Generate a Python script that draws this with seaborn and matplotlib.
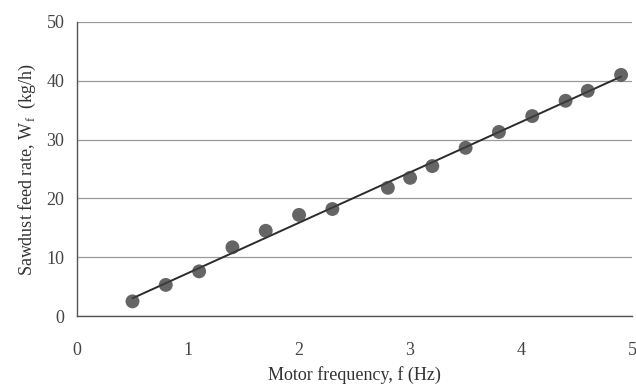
import numpy as np
import pandas as pd
import matplotlib
matplotlib.use("Agg")
import matplotlib.pyplot as plt
import seaborn as sns

# valeurs
frequence = [0.5, 0.8, 1.1, 1.4, 1.7, 2.0, 2.3, 2.8, 3.0, 3.2, 3.5, 3.8, 4.1, 4.4, 4.6, 4.9]
debit = [2.5, 5.3, 7.6, 11.7, 14.5, 17.2, 18.2, 21.8, 23.5, 25.5, 28.6, 31.3, 34.0, 36.6, 38.3, 41.0]
x_ticks = [0, 1, 2, 3, 4, 5]
y_ticks = [0, 10, 20, 30, 40, 50]

df = pd.DataFrame({"f": frequence, "W": debit})

sns.set_style("white")
plt.rcParams["font.family"] = ["Liberation Serif", "DejaVu Serif"]

fig = plt.figure(figsize=(6.36, 3.85), dpi=100)
ax = fig.add_axes([0.121, 0.179, 0.873, 0.764])

sns.regplot(data=df, x="f", y="W", ci=None, ax=ax,
            scatter_kws={"s": 100, "color": "#3f3f3f", "edgecolor": "none", "zorder": 3},
            line_kws={"color": "#2b2b2b", "lw": 1.4, "zorder": 2})

ax.set_xlim(0, 5)
ax.set_ylim(0, 50)
ax.set_xticks(x_ticks)
ax.set_yticks(y_ticks)
ax.yaxis.grid(True, color="#9a9a9a", lw=0.9)
ax.set_axisbelow(True)

for s in ["top", "right"]:
    ax.spines[s].set_visible(False)
for s in ["left", "bottom"]:
    ax.spines[s].set_color("#555555")
    ax.spines[s].set_linewidth(1.0)

ax.tick_params(axis="x", direction="inout", length=6, width=0.9, color="#555555",
               pad=16, labelsize=13, labelcolor="#444444")
ax.tick_params(axis="y", direction="out", length=5, width=0.9, color="#555555",
               pad=4, labelsize=13, labelcolor="#444444")

ax.set_xlabel("Motor frequency, f (Hz)", fontsize=13, color="#333333", labelpad=5)
ax.set_ylabel("Sawdust feed rate, W$_\\mathregular{f}$  (kg/h)", fontsize=13,
              color="#333333", labelpad=6)

fig.savefig("out.png", dpi=100)
